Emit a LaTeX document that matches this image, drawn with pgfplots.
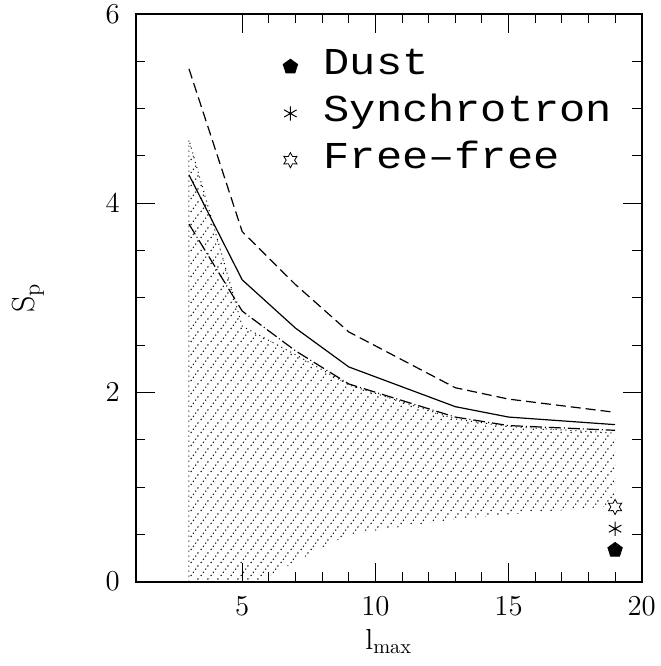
\documentclass[border=0pt]{standalone}
\usepackage{fontspec}
\usepackage{pgfplots}
\pgfplotsset{compat=1.18}
\usetikzlibrary{patterns,plotmarks}
\newfontfamily\legfont[FakeStretch=1.15]{Liberation Mono}

\pgfdeclarepatternformonly{dotlines}{\pgfqpoint{0pt}{0pt}}{\pgfqpoint{5pt}{6.4pt}}{\pgfqpoint{5pt}{6.4pt}}{%
  \pgfpathcircle{\pgfqpoint{0.625pt}{0.8pt}}{0.42pt}%
  \pgfpathcircle{\pgfqpoint{1.875pt}{2.4pt}}{0.42pt}%
  \pgfpathcircle{\pgfqpoint{3.125pt}{4.0pt}}{0.42pt}%
  \pgfpathcircle{\pgfqpoint{4.375pt}{5.6pt}}{0.42pt}%
  \pgfusepath{fill}}

\pgfdeclareplotmark{star6}{%
  \pgfpathmoveto{\pgfpointpolar{90}{\pgfplotmarksize}}%
  \pgfpathlineto{\pgfpointpolar{120}{0.55\pgfplotmarksize}}%
  \pgfpathlineto{\pgfpointpolar{150}{\pgfplotmarksize}}%
  \pgfpathlineto{\pgfpointpolar{180}{0.55\pgfplotmarksize}}%
  \pgfpathlineto{\pgfpointpolar{210}{\pgfplotmarksize}}%
  \pgfpathlineto{\pgfpointpolar{240}{0.55\pgfplotmarksize}}%
  \pgfpathlineto{\pgfpointpolar{270}{\pgfplotmarksize}}%
  \pgfpathlineto{\pgfpointpolar{300}{0.55\pgfplotmarksize}}%
  \pgfpathlineto{\pgfpointpolar{330}{\pgfplotmarksize}}%
  \pgfpathlineto{\pgfpointpolar{0}{0.55\pgfplotmarksize}}%
  \pgfpathlineto{\pgfpointpolar{30}{\pgfplotmarksize}}%
  \pgfpathlineto{\pgfpointpolar{60}{0.55\pgfplotmarksize}}%
  \pgfpathclose
  \pgfusepathqfillstroke}

\begin{document}
\begin{tikzpicture}
\begin{axis}[
  scale only axis, width=253pt, height=283.85pt,
  xmin=1, xmax=20, ymin=0, ymax=6,
  xtick={5,10,15,20}, ytick={0,2,4,6},
  minor x tick num=4, minor y tick num=3,
  tick align=inside,
  major tick length=9.5pt, minor tick length=4.7pt,
  axis line style={line width=1pt},
  every tick/.style={line width=0.5pt, black},
  tick label style={font=\fontsize{14.5}{17}\selectfont},
  xticklabel style={yshift=-4.3pt},
  yticklabel style={xshift=-4.5pt},
  xlabel={$\mathrm{l}_{\mathrm{max}}$},
  xlabel style={at={(axis description cs:0.5,0)}, anchor=north, yshift=-20.2pt, font=\fontsize{14.5}{17}\selectfont},
  legend style={draw=none, fill=none, at={(axis cs:6.523,5.658)}, anchor=north west, inner sep=0pt,
    font=\legfont\fontsize{19}{23}\selectfont, row sep=3.35pt, column sep=11pt,
    nodes={inner sep=2pt, text height=12pt, text depth=4pt}},
  legend cell align=left,
]
\coordinate (sw) at (rel axis cs:0,0);
\coordinate (ne) at (rel axis cs:1,1);
\coordinate (yl) at (rel axis cs:0,0.5);

% hatched region
\addplot[forget plot, draw=none, pattern=dotlines, pattern color=black] coordinates {
  (3,4.67) (5,2.70) (7,2.40) (9,2.08) (13,1.72) (15,1.64) (19,1.57)
  (19,0.80) (15,0.71) (13,0.66) (9,0.50) (7,0.21) (5,-0.09) (3,-0.40)
} -- cycle;
\addplot[forget plot, black, line width=0.5pt, dash pattern=on 0.5pt off 2pt] coordinates {
  (3,0) (3,4.67) (5,2.70) (7,2.40) (9,2.08) (13,1.72) (15,1.64) (19,1.57)
};

% dashed
\addplot[forget plot, black, line width=0.6pt, dash pattern=on 5pt off 2.5pt] coordinates {
  (3,5.42) (5,3.70) (7,3.14) (9,2.64) (13,2.05) (15,1.93) (19,1.79)
};
% solid
\addplot[forget plot, black, line width=0.6pt] coordinates {
  (3,4.30) (5,3.19) (7,2.68) (9,2.27) (13,1.85) (15,1.74) (19,1.66)
};
% dash-dot
\addplot[forget plot, black, line width=0.6pt, dash pattern=on 6pt off 1.5pt on 0.5pt off 1.5pt] coordinates {
  (3,3.78) (5,2.86) (7,2.44) (9,2.09) (13,1.74) (15,1.65) (19,1.60)
};

\addplot[only marks, mark=pentagon*, mark size=3.8pt, black] coordinates {(19,0.335)};
\addlegendentry{Dust}
\addplot[only marks, mark=asterisk, mark size=3.6pt, black, mark options={line width=0.5pt}] coordinates {(19,0.56)};
\addlegendentry{Synchrotron}
\addplot[only marks, mark=star6, mark size=3.8pt, black, mark options={line width=0.4pt, fill=white}] coordinates {(19,0.79)};
\addlegendentry{Free–free}
\end{axis}
\node[rotate=90, anchor=north, inner sep=0pt, font=\fontsize{16}{19}\selectfont] at ([xshift=-62pt]yl) {$\mathrm{S}_{\mathrm{p}}$};
\pgfresetboundingbox
\path[use as bounding box] ([shift={(-67.85pt,-42.15pt)}]sw) rectangle ([shift={(9.15pt,7pt)}]ne);
\end{tikzpicture}
\end{document}
